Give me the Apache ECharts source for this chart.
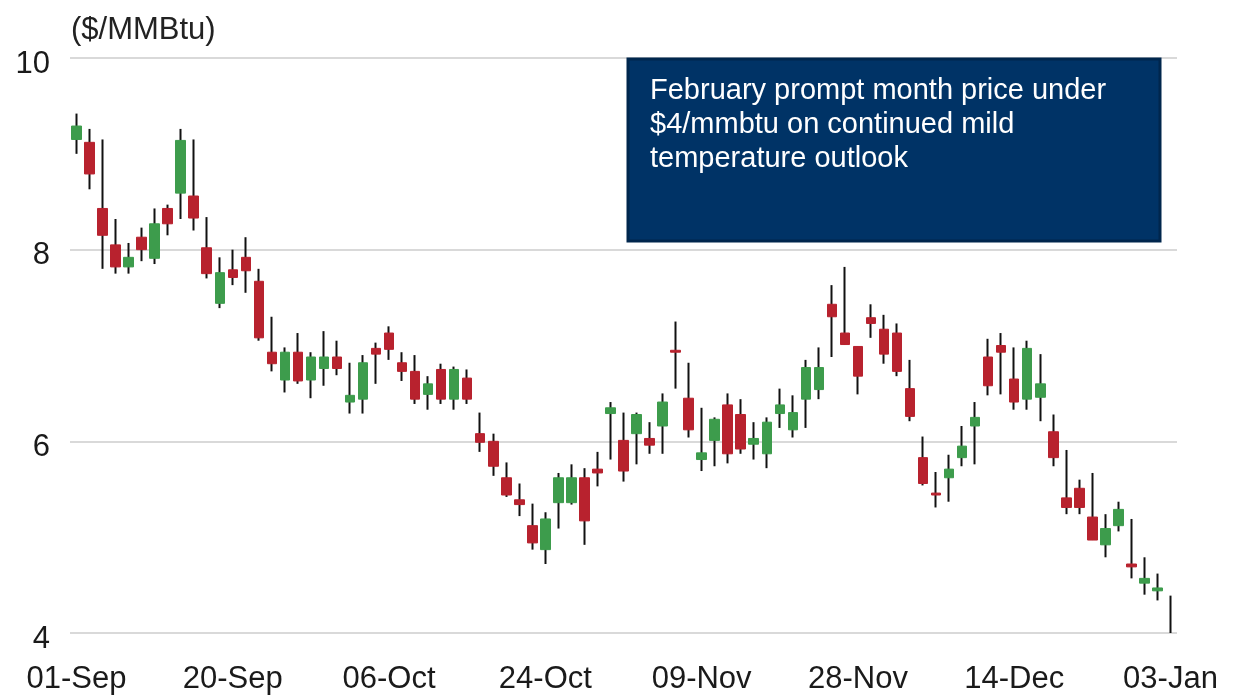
<!DOCTYPE html>
<html>
<head>
<meta charset="utf-8">
<script src="https://cdn.jsdelivr.net/npm/echarts@6/dist/echarts.min.js"></script>
<style>
  html, body { margin: 0; padding: 0; background: #fff; }
  #chart { width: 1234px; height: 700px; }
</style>
</head>
<body>
<div id="chart"></div>
<script>
// trading days, 01-Sep to 03-Jan
const dates = [
  '01-Sep','02-Sep','06-Sep','07-Sep','08-Sep','09-Sep','12-Sep','13-Sep','14-Sep','15-Sep','16-Sep',
  '19-Sep','20-Sep','21-Sep','22-Sep','23-Sep','26-Sep','27-Sep','28-Sep','29-Sep','30-Sep',
  '03-Oct','04-Oct','05-Oct','06-Oct','07-Oct','10-Oct','11-Oct','12-Oct','13-Oct','14-Oct',
  '17-Oct','18-Oct','19-Oct','20-Oct','21-Oct','24-Oct','25-Oct','26-Oct','27-Oct','28-Oct','31-Oct',
  '01-Nov','02-Nov','03-Nov','04-Nov','07-Nov','08-Nov','09-Nov','10-Nov','11-Nov',
  '14-Nov','15-Nov','16-Nov','17-Nov','18-Nov','21-Nov','22-Nov','23-Nov','25-Nov','28-Nov','29-Nov','30-Nov',
  '01-Dec','02-Dec','05-Dec','06-Dec','07-Dec','08-Dec','09-Dec','12-Dec','13-Dec','14-Dec','15-Dec','16-Dec',
  '19-Dec','20-Dec','21-Dec','22-Dec','23-Dec','27-Dec','28-Dec','29-Dec','30-Dec','03-Jan'
]

const open = [
  9.15, 9.12, 8.43, 8.05, 7.82, 8.13, 7.91, 8.43, 8.59, 8.56, 8.02,
  7.44, 7.79, 7.92, 7.67, 6.93, 6.64, 6.93, 6.64, 6.76, 6.88,
  6.41, 6.44, 6.97, 7.13, 6.82, 6.73, 6.49, 6.75, 6.44, 6.66,
  6.08, 6.00, 5.62, 5.39, 5.12, 4.87, 5.36, 5.36, 5.62, 5.71, 6.29,
  6.01, 6.08, 6.03, 6.16, 6.95, 6.45, 5.81, 6.01, 6.38,
  6.28, 5.97, 5.87, 6.29, 6.12, 6.44, 6.54, 7.43, 7.13, 6.99, 7.29, 7.17,
  7.13, 6.55, 5.83, 5.46, 5.62, 5.83, 6.16, 6.88, 7.00, 6.65, 6.44, 6.46,
  6.10, 5.41, 5.51, 5.21, 4.92, 5.12, 4.72, 4.52, 4.44, 4.00
]
const close = [
  9.29, 8.79, 8.15, 7.82, 7.92, 8.00, 8.27, 8.27, 9.14, 8.33, 7.75,
  7.76, 7.71, 7.78, 7.08, 6.81, 6.93, 6.63, 6.88, 6.88, 6.76,
  6.48, 6.82, 6.91, 6.96, 6.73, 6.44, 6.60, 6.44, 6.75, 6.44,
  5.99, 5.74, 5.44, 5.34, 4.94, 5.19, 5.62, 5.62, 5.17, 5.67, 6.35,
  5.69, 6.28, 5.96, 6.41, 6.93, 6.12, 5.88, 6.23, 5.87,
  5.92, 6.03, 6.20, 6.38, 6.30, 6.77, 6.77, 7.30, 7.01, 6.68, 7.23, 6.91,
  6.73, 6.26, 5.56, 5.44, 5.71, 5.95, 6.25, 6.58, 6.93, 6.41, 6.97, 6.60,
  5.83, 5.31, 5.31, 4.97, 5.09, 5.29, 4.69, 4.57, 4.47, 4.00
]
const low = [
  9.00, 8.63, 7.80, 7.75, 7.75, 7.88, 7.85, 8.15, 8.32, 8.20, 7.70,
  7.39, 7.63, 7.55, 7.05, 6.73, 6.51, 6.60, 6.45, 6.58, 6.69,
  6.29, 6.29, 6.60, 6.85, 6.63, 6.39, 6.33, 6.39, 6.33, 6.39,
  5.89, 5.64, 5.42, 5.22, 4.87, 4.72, 5.09, 5.34, 4.92, 5.53, 5.81,
  5.58, 5.76, 5.87, 5.87, 6.55, 6.04, 5.69, 5.74, 5.77,
  5.87, 5.81, 5.72, 6.14, 6.04, 6.14, 6.44, 6.88, 7.01, 6.49, 7.08, 6.81,
  6.68, 6.21, 5.54, 5.31, 5.37, 5.74, 5.76, 6.48, 6.49, 6.33, 6.33, 6.21,
  5.74, 5.24, 5.24, 4.97, 4.79, 5.06, 4.57, 4.40, 4.34, 4.00
]
const high = [
  9.42, 9.26, 9.15, 8.32, 8.07, 8.23, 8.43, 8.47, 9.26, 9.15, 8.34,
  7.92, 8.00, 8.13, 7.80, 7.30, 6.98, 7.13, 6.93, 7.15, 7.05,
  6.82, 6.90, 7.03, 7.20, 6.93, 6.90, 6.68, 6.81, 6.78, 6.75,
  6.30, 6.08, 5.78, 5.56, 5.35, 5.26, 5.67, 5.76, 5.72, 5.89, 6.41,
  6.30, 6.30, 6.20, 6.50, 7.25, 6.82, 6.35, 6.25, 6.50,
  6.44, 6.20, 6.25, 6.55, 6.48, 6.85, 6.98, 7.63, 7.82, 6.99, 7.43, 7.32,
  7.23, 6.85, 6.05, 5.68, 5.86, 6.16, 6.41, 7.07, 7.13, 6.98, 7.05, 6.91,
  6.28, 5.91, 5.60, 5.67, 5.24, 5.37, 5.19, 4.79, 4.62, 4.39
]

const yTicks = [4, 6, 8, 10]
const note = 'February prompt month price under\n$4/mmbtu on continued mild\ntemperature outlook'

const UP = '#3d9c4c'
const DOWN = '#b8222e'

// wicks drawn in black underneath, bodies on top without wicks
const wickData = dates.map((d, i) => [open[i], close[i], low[i], high[i]])
const bodyData = dates.map((d, i) => {
  const item = { value: [open[i], close[i], Math.min(open[i], close[i]), Math.max(open[i], close[i])] }
  // last day only shows its wick in the source
  if (i === dates.length - 1) item.itemStyle = { opacity: 0 }
  return item
})

const chart = echarts.init(document.getElementById('chart'))

chart.setOption({
  animation: false,
  textStyle: { fontFamily: 'Liberation Sans, Arial, sans-serif' },
  title: {
    text: '($/MMBtu)',
    left: 66,
    top: 10,
    textStyle: { fontSize: 31, fontWeight: 'normal', color: '#222' }
  },
  grid: { left: 70, right: 57, top: 58, bottom: 67 },
  xAxis: {
    type: 'category',
    data: dates,
    boundaryGap: true,
    axisLine: { show: false },
    axisTick: { show: false },
    axisLabel: {
      interval: 11,
      margin: 31,
      fontSize: 31,
      color: '#1a1a1a'
    },
    splitLine: { show: false }
  },
  yAxis: {
    type: 'value',
    min: yTicks[0],
    max: yTicks[yTicks.length - 1],
    interval: 2,
    axisLine: { show: false },
    axisTick: { show: false },
    axisLabel: {
      margin: 20,
      formatter: '{v|{value}}',
      rich: { v: { fontSize: 31, color: '#1a1a1a', padding: [12, 0, 0, 0] } }
    },
    splitLine: { lineStyle: { color: '#d9d9d9', width: 2 } }
  },
  series: [
    {
      type: 'candlestick',
      name: 'wick',
      data: wickData,
      barWidth: 1,
      itemStyle: {
        color: '#111',
        color0: '#111',
        borderColor: '#111',
        borderColor0: '#111',
        borderWidth: 2
      },
      z: 2
    },
    {
      type: 'candlestick',
      name: 'body',
      data: bodyData,
      barWidth: 10,
      itemStyle: {
        color: UP,
        color0: DOWN,
        borderColor: UP,
        borderColor0: DOWN,
        borderWidth: 1
      },
      z: 3
    }
  ],
  graphic: [
    {
      type: 'rect',
      shape: { x: 628, y: 59, width: 532, height: 182 },
      style: { fill: '#003366', stroke: '#00264d', lineWidth: 3 },
      z: 10
    },
    {
      type: 'text',
      x: 650,
      y: 74,
      style: {
        text: note,
        fill: '#ffffff',
        font: '29px "Liberation Sans", Arial, sans-serif',
        lineHeight: 34
      },
      z: 11
    }
  ]
})
</script>
</body>
</html>
